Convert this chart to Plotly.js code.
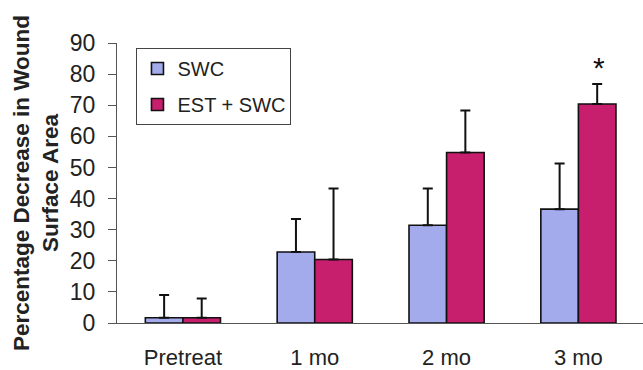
<!DOCTYPE html>
<html><head><meta charset="utf-8">
<script src="https://cdn.plot.ly/plotly-3.0.1.min.js"></script>
<style>html,body{margin:0;padding:0;background:#fff}#chart{width:643px;height:370px}</style>
</head><body><div id="chart"></div>
<script>
var categories = ['Pretreat', '1 mo', '2 mo', '3 mo'];
var swcValues = [1.7, 22.8, 31.4, 36.6];
var swcErrors = [7.3, 10.6, 11.8, 14.7];
var estValues = [1.7, 20.4, 54.8, 70.4];
var estErrors = [6.2, 22.8, 13.5, 6.4];
var yTicks = [0, 10, 20, 30, 40, 50, 60, 70, 80, 90];
var starCategory = '3 mo';
var starY = 82;

var errStyle = {type: 'data', symmetric: false, arrayminus: [0,0,0,0], color: '#111', thickness: 2, width: 5};
var traces = [
  {type: 'bar', name: 'SWC', x: categories, y: swcValues, legendgroup: 'a',
   marker: {color: '#a3abec', line: {color: '#111', width: 1.6}},
   error_y: Object.assign({array: swcErrors}, errStyle)},
  {type: 'bar', name: 'EST + SWC', x: categories, y: estValues, legendgroup: 'b',
   marker: {color: '#c81e6e', line: {color: '#111', width: 1.6}},
   error_y: Object.assign({array: estErrors}, errStyle)}
];
var layout = {
  width: 643, height: 370,
  margin: {l: 117, r: 0, t: 43, b: 47},
  paper_bgcolor: '#fff', plot_bgcolor: '#fff',
  barmode: 'group', bargap: 0.43, bargroupgap: 0,
  font: {family: 'Liberation Sans, Arial, sans-serif', color: '#222'},
  showlegend: true,
  legend: {x: 0.037, y: 0.982, xanchor: 'left', yanchor: 'top', traceorder: 'grouped',
    bordercolor: '#444', borderwidth: 1, bgcolor: '#fff',
    font: {size: 20, color: '#222'}, tracegroupgap: 7, itemwidth: 30},
  xaxis: {type: 'category', range: [-0.5, 3.49], showline: true, linecolor: '#555', linewidth: 1,
    ticks: '', tickfont: {size: 22, color: '#222'}, showgrid: false, zeroline: false, ticklabelstandoff: 15},
  yaxis: {range: [0, 90], tickvals: yTicks, showline: true, linecolor: '#555', linewidth: 1,
    ticks: 'outside', ticklen: 8, tickcolor: '#555', tickfont: {size: 23, color: '#222'},
    showgrid: false, zeroline: false, ticklabelstandoff: 8,
    title: {text: '<b>Percentage Decrease in Wound<br>Surface Area</b>', font: {size: 22.5, color: '#222'}, standoff: 4}},
  annotations: [{x: starCategory, y: starY, xref: 'x', yref: 'y', text: '*', showarrow: false,
    xshift: 21, font: {size: 30, color: '#111'}}]
};
Plotly.newPlot('chart', traces, layout, {displayModeBar: false, staticPlot: true});
</script></body></html>
